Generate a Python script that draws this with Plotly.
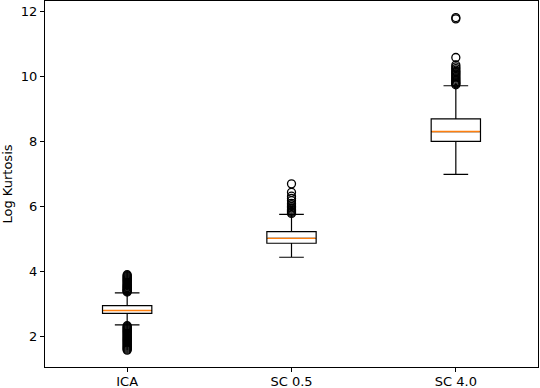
import plotly.graph_objects as go

categories = ["ICA", "SC 0.5", "SC 4.0"]
positions = [1, 2, 3]
q1 = [2.71, 4.87, 8.01]
median = [2.80, 5.02, 8.31]
q3 = [2.95, 5.23, 8.70]
lower_whisker = [2.36, 4.44, 6.99]
upper_whisker = [3.34, 5.76, 9.72]

outliers_ica = [3.37, 3.39, 3.41, 3.43, 3.45, 3.47, 3.50, 3.52, 3.55, 3.57, 3.60,
                3.63, 3.66, 3.69, 3.72, 3.75, 3.78, 3.81, 3.84, 3.87, 3.90,
                2.33, 2.30, 2.27, 2.24, 2.21, 2.18, 2.15, 2.12, 2.09, 2.06, 2.03,
                2.00, 1.97, 1.94, 1.91, 1.88, 1.85, 1.82, 1.79, 1.76, 1.73, 1.70,
                1.67, 1.64, 1.61, 1.58]
outliers_sc05 = [5.79, 5.82, 5.85, 5.88, 5.92, 5.96, 6.00, 6.05, 6.10, 6.18,
                 6.25, 6.32, 6.44, 6.70]
outliers_sc40 = [9.75, 9.78, 9.81, 9.84, 9.88, 9.92, 9.96, 10.00, 10.04, 10.08,
                 10.12, 10.16, 10.20, 10.25, 10.30, 10.36, 10.59, 11.78, 11.82]
outliers = [outliers_ica, outliers_sc05, outliers_sc40]

box_width = 0.3

fig = go.Figure()
for i, p in enumerate(positions):
    fig.add_trace(go.Box(
        x=[p], q1=[q1[i]], median=[median[i]], q3=[q3[i]],
        lowerfence=[lower_whisker[i]], upperfence=[upper_whisker[i]],
        width=box_width, whiskerwidth=0.5,
        fillcolor="rgba(255,255,255,0)",
        line=dict(color="black", width=1.2),
        boxpoints=False, showlegend=False, hoverinfo="skip",
    ))

# median lines (orange)
mx, my = [], []
for i, p in enumerate(positions):
    mx += [p - box_width / 2 + 0.004, p + box_width / 2 - 0.004, None]
    my += [median[i], median[i], None]
fig.add_trace(go.Scatter(x=mx, y=my, mode="lines",
                         line=dict(color="#ff7f0e", width=1.4),
                         showlegend=False, hoverinfo="skip"))

# outliers
ox, oy = [], []
for i, p in enumerate(positions):
    ox += [p] * len(outliers[i])
    oy += outliers[i]
fig.add_trace(go.Scatter(x=ox, y=oy, mode="markers",
                         marker=dict(symbol="circle-open", size=8,
                                     color="black", line=dict(width=1.3)),
                         showlegend=False, hoverinfo="skip"))

fig.update_layout(
    width=540, height=388,
    margin=dict(l=45, r=2, t=1, b=21),
    plot_bgcolor="white", paper_bgcolor="white",
    font=dict(family="DejaVu Sans", size=13, color="black"),
    xaxis=dict(range=[0.5, 3.5], tickmode="array", tickvals=positions,
               ticktext=categories, showgrid=False, zeroline=False,
               showline=True, linecolor="black", linewidth=1, mirror=True,
               ticks="outside", ticklen=4, tickwidth=1, tickcolor="black",
               ticklabelstandoff=-2, automargin=False),
    yaxis=dict(range=[1.06, 12.33], tickmode="array",
               tickvals=[2, 4, 6, 8, 10, 12], showgrid=False, zeroline=False,
               showline=True, linecolor="black", linewidth=1, mirror=True,
               ticks="outside", ticklen=4, tickwidth=1, tickcolor="black",
               automargin=False,
               title=dict(text="Log Kurtosis", standoff=6,
                          font=dict(size=13))),
)

fig.write_html("out.html", config={"displayModeBar": False},
               post_script="document.body.style.margin='0';document.body.style.padding='0';")
